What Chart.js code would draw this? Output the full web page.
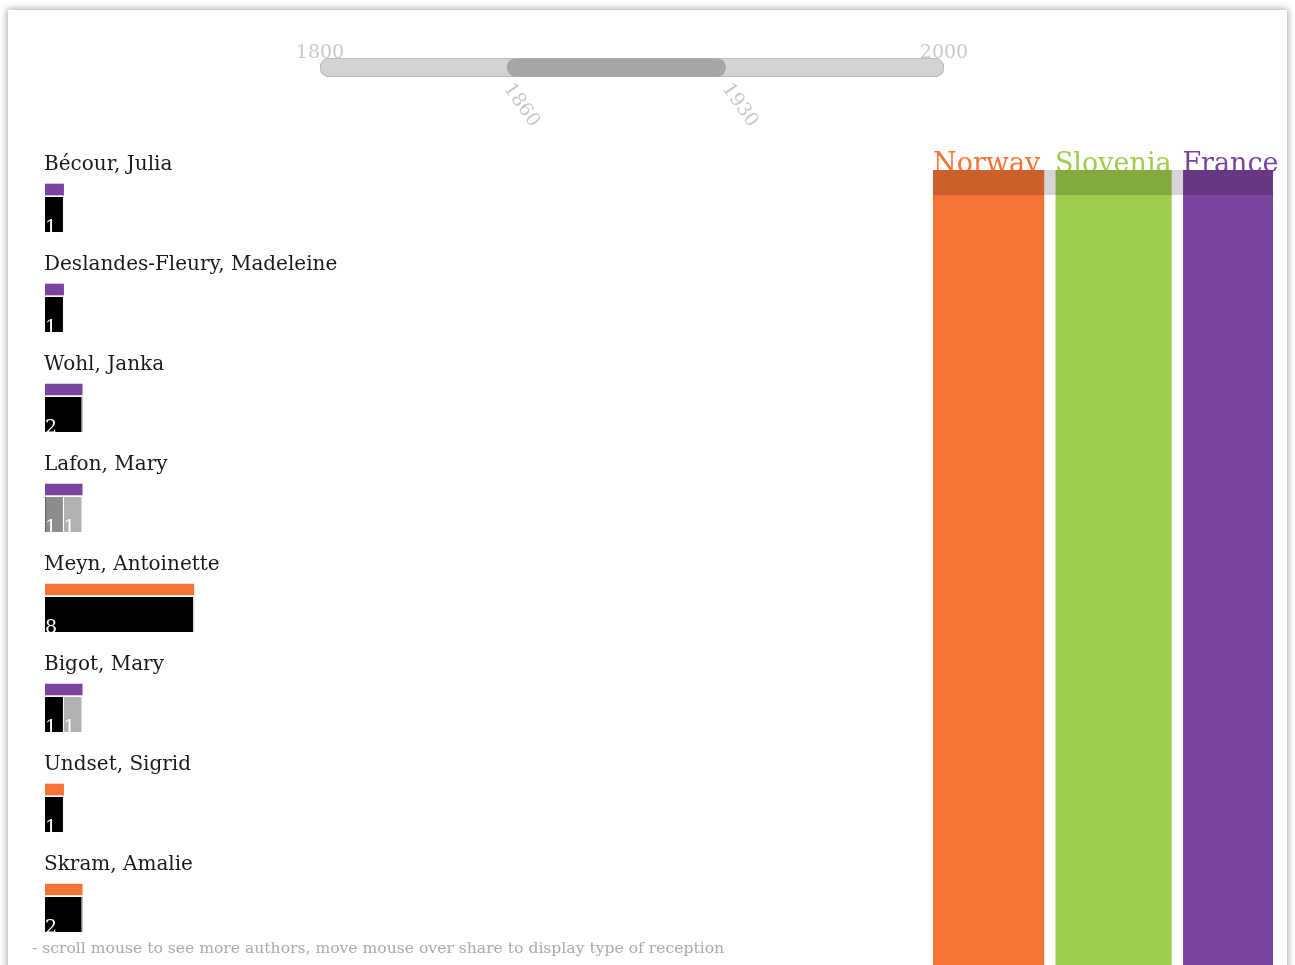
<!DOCTYPE html>
<html>
<head>
<meta charset="utf-8">
<script src="https://cdn.jsdelivr.net/npm/chart.js@4.4.1/dist/chart.umd.min.js"></script>
<style>
  html, body { margin: 0; padding: 0; background: #fff; overflow: hidden; width: 1295px; height: 965px; }
  .card { position: absolute; left: 8px; top: 10px; width: 1279px; height: 1100px; background: #fff;
          box-shadow: 0 0 7px 1px rgba(0,0,0,0.35); }
  canvas { position: absolute; }
  #slider { left: 290px; top: 20px; }
  #authors { left: 40px; top: 140px; }
  #countries { left: 925px; top: 140px; }
  .hint { position: absolute; left: 32px; top: 939px; font: 15.6px "DejaVu Serif", serif; color: #aaa; white-space: nowrap; }
</style>
</head>
<body>
<div class="card"></div>
<canvas id="slider" width="690" height="120"></canvas>
<canvas id="authors" width="760" height="800"></canvas>
<canvas id="countries" width="360" height="830"></canvas>
<div class="hint">- scroll mouse to see more authors, move mouse over share to display type of reception</div>
<script>
// time slider
const yearRange = [1800, 2000];
const yearSelection = [1860, 1930];

// authors and their reception counts
const authors = ['Bécour, Julia', 'Deslandes-Fleury, Madeleine', 'Wohl, Janka', 'Lafon, Mary',
                 'Meyn, Antoinette', 'Bigot, Mary', 'Undset, Sigrid', 'Skram, Amalie'];
const authorCountry = ['France', 'France', 'France', 'France', 'Norway', 'France', 'Norway', 'Norway'];
const receptionBlack = [1, 1, 2, 0, 8, 1, 1, 2];
const receptionDark  = [0, 0, 0, 1, 0, 0, 0, 0];
const receptionLight = [0, 0, 0, 1, 0, 1, 0, 0];

// countries share
const countries = ['Norway', 'Slovenia', 'France'];
const countryShare = [11, 12, 9];
const countryColors = { Norway: '#f47335', Slovenia: '#9fcc4c', France: '#7b449f' };

const SERIF = '"DejaVu Serif", serif';
Chart.defaults.animation = false;
Chart.defaults.plugins.legend.display = false;
Chart.defaults.plugins.tooltip.enabled = false;

// ---------- slider ----------
const sliderLabels = {
    id: 'sliderLabels',
    afterDraw(chart) {
        const ctx = chart.ctx, x = chart.scales.x, area = chart.chartArea;
        ctx.save();
        ctx.fillStyle = 'rgba(190,190,190,0.85)';
        ctx.font = '19px ' + SERIF;
        ctx.textAlign = 'center';
        ctx.textBaseline = 'alphabetic';
        yearRange.forEach(v => ctx.fillText(String(v), x.getPixelForValue(v), area.top));
        yearSelection.forEach(v => {
            ctx.save();
            ctx.translate(x.getPixelForValue(v) + 8, area.bottom + 3);
            ctx.rotate(55 * Math.PI / 180);
            ctx.textAlign = 'left';
            ctx.textBaseline = 'top';
            ctx.fillText(String(v), 0, 0);
            ctx.restore();
        });
        ctx.restore();
    }
};

// first dataset is drawn on top, so the selection comes first
new Chart(document.getElementById('slider'), {
    type: 'bar',
    data: {
        labels: ['years'],
        datasets: [
            {
                data: [yearSelection],
                backgroundColor: '#a6a6a6',
                borderWidth: 0,
                borderSkipped: false,
                borderRadius: 9,
                grouped: false,
                barThickness: 18
            },
            {
                data: [yearRange],
                backgroundColor: '#d3d3d3',
                borderColor: '#b4b4b4',
                borderWidth: 1,
                borderSkipped: false,
                borderRadius: 10,
                grouped: false,
                barThickness: 19
            }
        ]
    },
    options: {
        indexAxis: 'y',
        responsive: false,
        layout: { padding: { left: 30, right: 36, top: 38, bottom: 63 } },
        scales: {
            x: { type: 'linear', min: yearRange[0], max: yearRange[1], display: false },
            y: { display: false }
        }
    },
    plugins: [sliderLabels]
});

// ---------- authors ----------
const NAME_POS = 0.30, COUNTRY_POS = 0.495, REC_POS = 0.745;
const totals = authors.map((a, i) => receptionBlack[i] + receptionDark[i] + receptionLight[i]);

function recDataset(values, color) {
    return {
        data: values.map((v, i) => ({ x: v, y: i + REC_POS })),
        backgroundColor: color,
        borderColor: '#fff',
        borderWidth: { left: 0, right: 1, top: 0, bottom: 0 },
        borderSkipped: false,
        barThickness: 35,
        grouped: false,
        stack: 'rec'
    };
}

const authorLabels = {
    id: 'authorLabels',
    afterDatasetsDraw(chart) {
        const ctx = chart.ctx, y = chart.scales.y, area = chart.chartArea;
        ctx.save();
        ctx.fillStyle = '#1a1a1a';
        ctx.font = '20px ' + SERIF;
        ctx.textBaseline = 'alphabetic';
        authors.forEach((name, i) => ctx.fillText(name, area.left - 1, y.getPixelForValue(i + NAME_POS)));
        ctx.fillStyle = '#fff';
        ctx.font = '19px ' + SERIF;
        for (let d = 1; d < chart.data.datasets.length; d++) {
            const meta = chart.getDatasetMeta(d);
            meta.data.forEach((bar, i) => {
                const v = chart.data.datasets[d].data[i].x;
                if (!v) return;
                const left = Math.min(bar.base, bar.x);
                ctx.fillText(String(v), left, bar.y + bar.height / 2 + 1);
            });
        }
        ctx.restore();
    }
};

new Chart(document.getElementById('authors'), {
    type: 'bar',
    data: {
        datasets: [
            {
                data: totals.map((v, i) => ({ x: v, y: i + COUNTRY_POS })),
                backgroundColor: authorCountry.map(c => countryColors[c]),
                borderWidth: 0,
                barThickness: 11,
                grouped: false,
                stack: 'country'
            },
            recDataset(receptionBlack, '#000000'),
            recDataset(receptionDark, '#8c8c8c'),
            recDataset(receptionLight, '#b1b1b1')
        ]
    },
    options: {
        indexAxis: 'y',
        responsive: false,
        layout: { padding: { left: 5, right: 11, top: 0, bottom: 0 } },
        scales: {
            x: { type: 'linear', min: 0, max: 40, stacked: true, display: false },
            y: { type: 'linear', min: 0, max: 8, reverse: true, offset: false, display: false }
        }
    },
    plugins: [authorLabels]
});

// ---------- countries ----------
const countryHeaders = {
    id: 'countryHeaders',
    afterDatasetsDraw(chart) {
        const ctx = chart.ctx, x = chart.scales.x, area = chart.chartArea;
        ctx.save();
        ctx.font = '27px ' + SERIF;
        ctx.textBaseline = 'alphabetic';
        let start = 0;
        countries.forEach((c, i) => {
            ctx.fillStyle = countryColors[c];
            ctx.fillText(c, x.getPixelForValue(start) + (i > 0 ? 5 : 0), area.top + 2);
            start += countryShare[i];
        });
        ctx.fillStyle = 'rgba(0,0,0,0.165)';
        ctx.fillRect(area.left, area.top, area.right - area.left, 25);
        ctx.restore();
    }
};

new Chart(document.getElementById('countries'), {
    type: 'bar',
    data: {
        labels: ['share'],
        datasets: countries.map((c, i) => ({
            label: c,
            data: [countryShare[i]],
            backgroundColor: countryColors[c],
            borderColor: '#fff',
            borderWidth: { left: i > 0 ? 6 : 0, right: i < countries.length - 1 ? 6 : 0, top: 0, bottom: 0 },
            borderSkipped: false,
            barPercentage: 1,
            categoryPercentage: 1
        }))
    },
    options: {
        indexAxis: 'y',
        responsive: false,
        layout: { padding: { left: 8, right: 12, top: 30, bottom: 0 } },
        scales: {
            x: { type: 'linear', min: 0, max: countryShare.reduce((a, b) => a + b, 0), stacked: true, display: false },
            y: { stacked: true, display: false }
        }
    },
    plugins: [countryHeaders]
});
</script>
</body>
</html>
